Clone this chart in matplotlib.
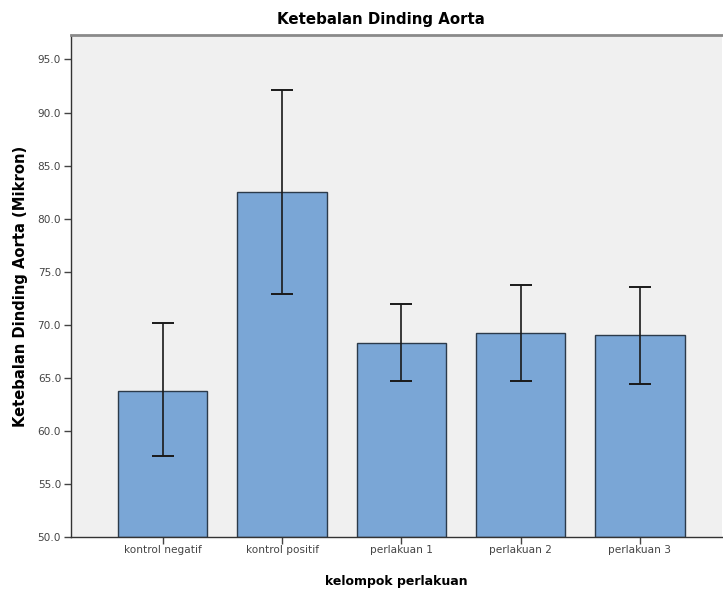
import numpy as np
from matplotlib import pyplot as plt

# data
groups = ['kontrol negatif', 'kontrol positif', 'perlakuan 1', 'perlakuan 2', 'perlakuan 3']
means = [63.8, 82.5, 68.3, 69.2, 69.0]
err_upper = [70.15, 92.1, 72.0, 73.7, 73.6]
err_lower = [57.6, 72.9, 64.7, 64.7, 64.4]

plt.rcParams['font.family'] = ['DejaVu Sans']

fig = plt.figure(figsize=(7.23, 5.94), dpi=100)
ax = fig.add_axes([0.098, 0.096, 0.901, 0.845])
ax.set_facecolor('#f0f0f0')

x = np.arange(len(groups))
means = np.array(means)
yerr = [means - np.array(err_lower), np.array(err_upper) - means]

ax.bar(x, means - 50, bottom=50, width=0.75, color='#7aa6d6',
       edgecolor='#2b3a4a', linewidth=1.0, zorder=2)
ax.errorbar(x, means, yerr=yerr, fmt='none', ecolor='#1a1a1a',
            elinewidth=1.2, capsize=8, capthick=1.4, zorder=3)

ax.set_xlim(-0.77, 4.69)
ax.set_ylim(50, 97.3)
ax.set_yticks(np.arange(50, 96, 5))
ax.set_yticklabels(['%.1f' % v for v in np.arange(50, 96, 5)])
ax.set_xticks(x)
ax.set_xticklabels(groups)

ax.tick_params(axis='y', labelsize=7.6, colors='#444444', length=5, width=1, pad=2)
ax.tick_params(axis='x', labelsize=7.6, colors='#444444', length=5, width=1, pad=1)

for s in ['left', 'bottom']:
    ax.spines[s].set_color('#333333')
    ax.spines[s].set_linewidth(1.0)
ax.spines['top'].set_color('#8a8a8a')
ax.spines['top'].set_linewidth(2.0)
ax.spines['right'].set_visible(False)

ax.set_title('Ketebalan Dinding Aorta', fontsize=10.8, fontweight='bold',
             pad=8, x=0.476)
ax.set_xlabel('kelompok perlakuan', fontsize=9.0, fontweight='bold', labelpad=14)
ax.set_ylabel('Ketebalan Dinding Aorta (Mikron)', fontsize=10.6,
              fontweight='bold')
ax.yaxis.set_label_coords(-0.066, 0.5)

fig.savefig('out.png', dpi=100)
